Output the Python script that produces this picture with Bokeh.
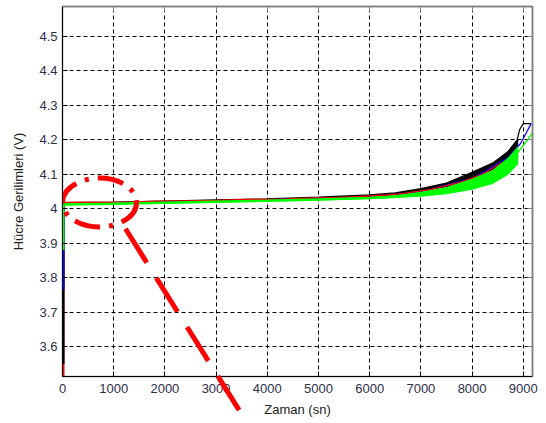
from bokeh.plotting import figure
from bokeh.layouts import column
from bokeh.models import (Range1d, FixedTicker, CustomJSTickFormatter, LinearAxis)
from bokeh.embed import file_html
from bokeh.resources import INLINE

# ---- data ----
x_ticks = [0, 1000, 2000, 3000, 4000, 5000, 6000, 7000, 8000, 9000]
x_tick_labels = ["0", "1000", "2000", "3000", "4000", "5000", "6000", "7000", "8000", "9000"]
y_ticks = [3.6, 3.7, 3.8, 3.9, 4.0, 4.1, 4.2, 4.3, 4.4, 4.5]
y_tick_labels = ["3.6", "3.7", "3.8", "3.9", "4", "4.1", "4.2", "4.3", "4.4", "4.5"]

# band envelopes (black cells, green cells)
band_t = [0, 1000, 2000, 3000, 4000, 5000, 6000, 6500, 7000, 7500, 8000, 8400, 8700, 8900]
black_hi = [4.0175, 4.019, 4.022, 4.025, 4.028, 4.033, 4.040, 4.046, 4.058, 4.074, 4.105, 4.132, 4.165, 4.200]
black_lo = [4.0150, 4.016, 4.019, 4.022, 4.025, 4.029, 4.034, 4.039, 4.049, 4.062, 4.087, 4.112, 4.145, 4.172]
green_hi = [4.0150, 4.0165, 4.019, 4.022, 4.025, 4.029, 4.034, 4.039, 4.049, 4.062, 4.087, 4.112, 4.148, 4.182]
green_lo = [4.0100, 4.0120, 4.015, 4.018, 4.021, 4.024, 4.028, 4.031, 4.035, 4.042, 4.055, 4.072, 4.098, 4.130]

# thin single-cell traces
red_t = [0, 600, 1200, 1800, 2400, 3000, 3600, 4200, 4800, 5400, 6000, 6600, 7200, 7800, 8200, 8600]
red_v = [4.018, 4.019, 4.018, 4.022, 4.023, 4.024, 4.027, 4.027, 4.031, 4.033, 4.037, 4.043, 4.056, 4.078, 4.100, 4.135]
blue_t = [0, 3000, 6000, 7000, 8000, 8700, 8950, 9154]
blue_v = [4.015, 4.022, 4.035, 4.049, 4.088, 4.148, 4.190, 4.247]
black_t = [8700, 8880, 8930, 9000, 9154]
black_v = [4.165, 4.200, 4.230, 4.247, 4.247]
green_t = [8700, 8880, 9174]
green_v = [4.140, 4.160, 4.218]

# initial jump at t = 0 (start voltage -> plateau)
jump_colors = ["#ff0000", "#000000", "#0000ff", "#00ff00"]
jump_start = [3.40, 3.55, 3.765, 3.88]
jump_end = [4.016, 4.017, 4.015, 4.013]

# red hand-drawn annotation: ellipse and pointer line
ell_t, ell_v, ell_w, ell_h = 723, 4.018, 1445, 0.142
ptr_t = [1231, 3477]
ptr_v = [3.942, 3.409]

X_RANGE = (0, 9180)
Y_RANGE = (3.513, 4.587)
W, H = 540, 420
BL, BR, BT, BB = 62, 8, 6, 44
FONT = "Liberation Sans"

p = figure(width=W, height=H, x_range=Range1d(*X_RANGE), y_range=Range1d(*Y_RANGE),
           output_backend="svg", toolbar_location=None,
           min_border_left=BL, min_border_right=BR, min_border_top=BT, min_border_bottom=BB)
p.background_fill_color = "white"
p.border_fill_color = "white"
p.outline_line_color = "#808080"
p.outline_line_width = 1.5

xt = FixedTicker(ticks=x_ticks)
yt = FixedTicker(ticks=y_ticks)
code = """
for (let i = 0; i < tvals.length; i++) { if (Math.abs(tvals[i] - tick) < 1e-6) return tlabels[i]; }
return '';
"""
xf = CustomJSTickFormatter(args=dict(tvals=x_ticks, tlabels=x_tick_labels), code=code)
yf = CustomJSTickFormatter(args=dict(tvals=y_ticks, tlabels=y_tick_labels), code=code)

for ax, tk, fm in ((p.xaxis[0], xt, xf), (p.yaxis[0], yt, yf)):
    ax.ticker = tk
    ax.formatter = fm
    ax.axis_line_color = "black"
    ax.axis_line_width = 1
    ax.major_tick_in = 5
    ax.major_tick_out = 0
    ax.major_tick_line_color = "black"
    ax.minor_tick_line_color = None
    ax.major_label_text_font = FONT
    ax.major_label_text_font_size = "13px"
    ax.major_label_text_color = "#2e2e48"
    ax.axis_label_text_font = FONT
    ax.axis_label_text_font_size = "13px"
    ax.axis_label_text_font_style = "normal"
    ax.axis_label_text_color = "#222222"

p.xaxis.axis_label = "Zaman (sn)"
p.yaxis.axis_label = "Hücre Gerilimleri (V)"
p.xaxis.major_label_standoff = 7
p.xaxis.axis_label_standoff = 6
p.yaxis.major_label_standoff = 5
p.yaxis.axis_label_standoff = 10

blank = CustomJSTickFormatter(code="return '';")
for loc, tk in (("right", yt), ("above", xt)):
    a = LinearAxis(ticker=tk, formatter=blank, major_tick_in=5, major_tick_out=0,
                   axis_line_color="#808080", axis_line_width=1.5,
                   major_tick_line_color="#808080", minor_tick_line_color=None,
                   major_label_text_font_size="0px", major_label_standoff=0)
    p.add_layout(a, loc)

for g, tk in ((p.xgrid[0], xt), (p.ygrid[0], yt)):
    g.ticker = tk
    g.grid_line_color = "black"
    g.grid_line_dash = "4 3"
    g.grid_line_width = 1

# initial jumps
for c, s, e in zip(jump_colors, jump_start, jump_end):
    p.line([0, 0], [s, e], line_color=c, line_width=4)

# traces
p.varea(x=band_t, y1=black_lo, y2=black_hi, fill_color="black")
p.line(band_t, black_hi, line_color="black", line_width=1.5)
p.line(black_t, black_v, line_color="black", line_width=1.2)
p.line(blue_t, blue_v, line_color="#0000ff", line_width=1.2)
p.line(red_t, red_v, line_color="#ff0000", line_width=1.3)
p.varea(x=band_t, y1=green_lo, y2=green_hi, fill_color="#00ff00")
p.line(band_t, [(a + b) / 2 for a, b in zip(green_lo, green_hi)], line_color="#00ff00", line_width=2.5)
p.line(green_t, green_v, line_color="#00ff00", line_width=1.5)

# annotation: dashed ellipse
p.ellipse(x=[ell_t], y=[ell_v], width=ell_w, height=ell_h, fill_color=None,
          line_color="#ff0000", line_width=5, line_dash="26 9 4 9")

# transparent overlay (its frame is aligned horizontally with the main frame by the column
# and spans the full height), so the pointer line can run below the x axis as in the reference
fh = H - BT - BB
ky = fh / (Y_RANGE[1] - Y_RANGE[0])
ov = figure(width=W, height=H,
            x_range=Range1d(*X_RANGE),
            y_range=Range1d(Y_RANGE[0] - BB / ky, Y_RANGE[1] + BT / ky),
            output_backend="svg", toolbar_location=None,
            x_axis_type=None, y_axis_type=None,
            min_border=0, min_border_left=0, min_border_right=0, min_border_top=0, min_border_bottom=0)
ov.background_fill_color = None
ov.border_fill_color = None
ov.outline_line_color = None
ov.grid.visible = False
ov.line(ptr_t, ptr_v, line_color="#ff0000", line_width=5, line_dash="40 18")
ov.margin = (-H, 0, 0, 0)

layout = column(p, ov, spacing=0)
open("out.html", "w").write(file_html(layout, INLINE))
